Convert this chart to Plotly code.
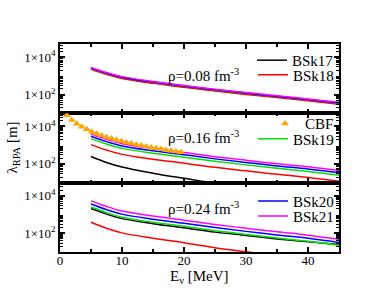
import plotly.graph_objects as go
from plotly.subplots import make_subplots

# ---------------- data ----------------
E = [5, 7.5, 10, 15, 20, 25, 30, 35, 40, 45]  # neutrino energy [MeV]

# rho = 0.08 fm^-3
bsk17_r1 = [2455, 1318, 794, 437, 269, 170, 112, 76, 51, 34]
bsk18_r1 = [2240, 1202, 724, 398, 245, 155, 102, 69, 47, 31]
bsk19_r1 = [2570, 1380, 832, 457, 282, 178, 117, 79, 54, 35]
bsk20_r1 = [2630, 1413, 851, 468, 288, 182, 120, 81, 55, 36]
bsk21_r1 = [2818, 1514, 912, 501, 309, 195, 129, 87, 59, 39]

# rho = 0.16 fm^-3
bsk17_r2 = [251, 120, 68, 32, 17, 9.2, 5.8, 3.8, 2.7, 1.8]
bsk18_r2 = [1070, 550, 324, 178, 110, 66, 43, 28, 19, 12]
bsk19_r2 = [2240, 1150, 676, 372, 229, 138, 89, 58, 40, 25]
bsk20_r2 = [3020, 1550, 912, 501, 309, 186, 120, 78, 54, 34]
bsk21_r2 = [3980, 2040, 1200, 660, 407, 245, 158, 102, 71, 45]

cbf_E = [1.1, 1.9, 2.7, 3.5, 4.3, 5.1, 5.9, 6.7, 7.5, 8.3, 9.1, 9.9,
         10.7, 11.5, 12.3, 13.1, 13.9, 14.7, 15.5, 16.3, 17.1, 17.9, 18.7, 19.5]
cbf_r2 = [40000, 22000, 14000, 9500, 7000, 5200, 4100, 3300, 2700, 2250, 1900, 1620,
          1400, 1220, 1070, 950, 850, 760, 685, 620, 560, 510, 465, 425]

# rho = 0.24 fm^-3
bsk17_r3 = [2090, 1050, 603, 324, 195, 115, 76, 50, 35, 25]
bsk18_r3 = [389, 186, 105, 54, 31, 17, 10.2, 6.3, 4.2, 2.5]
bsk19_r3 = [2510, 1260, 724, 389, 234, 138, 87, 56, 37, 23]
bsk20_r3 = [3630, 1820, 1050, 562, 339, 200, 126, 81, 54, 32]
bsk21_r3 = [5370, 2690, 1550, 832, 501, 295, 186, 120, 79, 48]

names = ["BSk17", "BSk18", "BSk19", "BSk20", "BSk21"]
colors = ["#000000", "#ff0000", "#00e000", "#0000ff", "#ff00ff"]
panels = [
    [bsk17_r1, bsk18_r1, bsk19_r1, bsk20_r1, bsk21_r1],
    [bsk17_r2, bsk18_r2, bsk19_r2, bsk20_r2, bsk21_r2],
    [bsk17_r3, bsk18_r3, bsk19_r3, bsk20_r3, bsk21_r3],
]
rho_labels = ["ρ=0.08 fm<sup>-3</sup>", "ρ=0.16 fm<sup>-3</sup>", "ρ=0.24 fm<sup>-3</sup>"]

legend_of = {"BSk17": (1, "legend"), "BSk18": (1, "legend2"), "BSk19": (2, "legend4"),
             "BSk20": (3, "legend5"), "BSk21": (3, "legend6")}

FONT = "Liberation Serif, Times New Roman, serif"

fig = make_subplots(rows=3, cols=1, shared_xaxes=True, vertical_spacing=0)

for r, series in enumerate(panels, start=1):
    for name, col, ys in zip(names, colors, series):
        lp, lg = legend_of[name]
        fig.add_trace(go.Scatter(x=E, y=ys, mode="lines", name=name,
                                 line=dict(color=col, width=1.5, shape="spline", smoothing=1),
                                 showlegend=(lp == r), legend=lg),
                      row=r, col=1)
    if r == 2:
        fig.add_trace(go.Scatter(x=cbf_E, y=cbf_r2, mode="markers", name="CBF",
                                 marker=dict(symbol="triangle-up", color="#ffa500", size=7),
                                 showlegend=True, legend="legend3"),
                      row=2, col=1)

ytickvals = [100, 10000]
yticktext = ["1×10<sup>2</sup>", "1×10<sup>4</sup>"]
yminor = [m * 10 ** k for k in range(1, 5) for m in range(2, 10) if m * 10 ** k <= 50000]

for r in range(1, 4):
    fig.update_yaxes(type="log", range=[1, 4.7], tickvals=ytickvals, ticktext=yticktext,
                     ticks="inside", ticklen=5, tickwidth=1.5, tickcolor="black",
                     showline=True, linecolor="black", linewidth=1.5, mirror="ticks",
                     showgrid=False, zeroline=False,
                     tickfont=dict(family=FONT, size=13, color="black"),
                     minor=dict(tickvals=yminor, ticks="inside", ticklen=3, tickcolor="black",
                                tickwidth=1, showgrid=False),
                     row=r, col=1)
    fig.update_xaxes(range=[0, 45], dtick=10, tick0=0, ticks="inside", ticklen=5,
                     tickwidth=1.5, tickcolor="black",
                     showline=True, linecolor="black", linewidth=1.5, mirror="ticks",
                     showgrid=False, zeroline=False, showticklabels=(r == 3),
                     ticklabelstandoff=-4,
                     tickfont=dict(family=FONT, size=13, color="black"),
                     minor=dict(dtick=5, ticks="inside", ticklen=3, tickcolor="black",
                                tickwidth=1.5, showgrid=False),
                     row=r, col=1)

fig.add_annotation(text="E<sub>ν</sub> [MeV]", x=0.5, y=-0.068, xref="paper", yref="paper",
                   xanchor="center", yanchor="top", showarrow=False,
                   font=dict(family=FONT, size=15, color="black"))

rho_y = [0.851, 0.555, 0.212]
for lab, yy in zip(rho_labels, rho_y):
    fig.add_annotation(text=lab, x=0.513, y=yy, xref="paper", yref="paper",
                       xanchor="center", yanchor="middle",
                       showarrow=False, font=dict(family=FONT, size=15, color="black"))

fig.add_annotation(text="λ<sub>RPA</sub> [m]", x=-0.17, y=0.5, xref="paper", yref="paper",
                   xanchor="center", yanchor="middle",
                   textangle=-90, showarrow=False,
                   font=dict(family=FONT, size=15, color="black"))

leg_pos = {"legend": 0.921, "legend2": 0.851, "legend3": 0.616, "legend4": 0.543,
           "legend5": 0.244, "legend6": 0.172}
legend_cfg = {}
for k, yy in leg_pos.items():
    legend_cfg[k] = dict(x=1.0, xanchor="right", y=yy, yanchor="middle",
                         bgcolor="rgba(0,0,0,0)", borderwidth=0,
                         font=dict(family=FONT, size=15, color="black"),
                         itemwidth=30, tracegroupgap=0)

fig.update_layout(width=385, height=298, margin=dict(l=60, r=46, t=44, b=45.5),
                  paper_bgcolor="white", plot_bgcolor="white",
                  font=dict(family=FONT, color="black"),
                  **legend_cfg)

fig.write_html("out.html", config={"displayModeBar": False},
               post_script="document.body.style.margin='0px';document.body.style.overflow='hidden';")
